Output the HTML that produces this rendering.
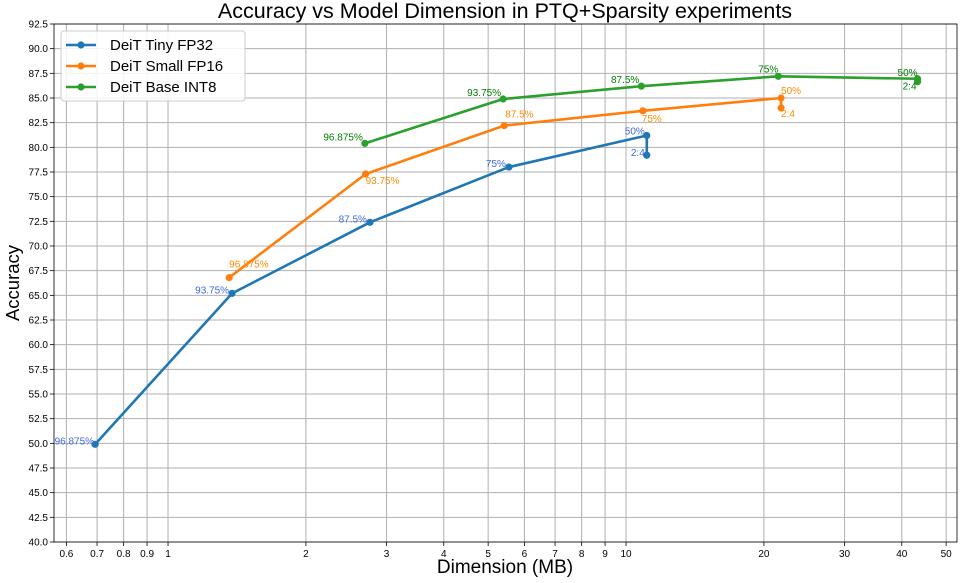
<!DOCTYPE html>
<html><head><meta charset="utf-8"><style>
body{margin:0;background:#fff;}
svg text{font-family:"Liberation Sans","DejaVu Sans",sans-serif;}
</style></head><body>
<svg id="chart" width="962" height="578"></svg>
<script>
const seriesNames=["DeiT Tiny FP32","DeiT Small FP16","DeiT Base INT8"];
const tinyX=[0.693,1.38,2.76,5.55,11.1,11.1];
const tinyY=[49.9,65.2,72.4,78.0,81.2,79.2];
const smallX=[1.36,2.70,5.42,10.88,21.8,21.8];
const smallY=[66.8,77.3,82.2,83.7,85.0,84.0];
const baseX=[2.69,5.39,10.8,21.5,43.3,43.3];
const baseY=[80.4,84.9,86.2,87.2,86.95,86.65];
const pointLabels=["96.875%","93.75%","87.5%","75%","50%","2:4"];
const xTicks=[0.6,0.7,0.8,0.9,1,2,3,4,5,6,7,8,9,10,20,30,40,50];
const yTicks=[];for(let v=40;v<=92.5;v+=2.5)yTicks.push(v);

const NS="http://www.w3.org/2000/svg";
const svg=document.getElementById('chart');
const L=54,R=957,T=24,B=542;
const xmin=Math.log10(0.5637),xmax=Math.log10(52.8);
const X=v=>L+(Math.log10(v)-xmin)/(xmax-xmin)*(R-L);
const Y=v=>B-(v-40)/(92.5-40)*(B-T);
function el(tag,attrs,parent){const e=document.createElementNS(NS,tag);for(const k in attrs)e.setAttribute(k,attrs[k]);(parent||svg).appendChild(e);return e;}

const grid=el('g',{});


xTicks.forEach(t=>{
  const x=X(t);
  el('line',{x1:x,x2:x,y1:T,y2:B,stroke:'#b0b0b0','stroke-width':1},grid);
  el('line',{x1:x,x2:x,y1:B,y2:B+4,stroke:'#000','stroke-width':0.8},grid);
  const tx=el('text',{x:x,y:B+15,'font-size':10,'text-anchor':'middle',fill:'#000'},grid);
  tx.textContent=String(t);
  
  
});
yTicks.forEach(t=>{
  const y=Y(t);
  el('line',{x1:L,x2:R,y1:y,y2:y,stroke:'#b0b0b0','stroke-width':1},grid);
  el('line',{x1:L-4,x2:L,y1:y,y2:y,stroke:'#000','stroke-width':0.8},grid);
  const tx=el('text',{x:L-6,y:y+3.5,'font-size':10,'text-anchor':'end',fill:'#000'},grid);
  tx.textContent=t.toFixed(1);
  
  
});
const frame=el('rect',{x:L,y:T,width:R-L,height:B-T,fill:'none',stroke:'#000','stroke-width':0.8});



const colors=['#1f77b4','#ff7f0e','#2ca02c'];
const labColors=['#4169e1','#ff8c00','#008000'];
const data=[[tinyX,tinyY],[smallX,smallY],[baseX,baseY]];
const offs=[
 [[-1,0,'end'],[-3,0,'end'],[-3,0,'end'],[-3,0,'end'],[-2,-1,'end'],[-2,1,'end']],
 [[0,-10,'start'],[0,10,'start'],[1,-8,'start'],[-1,11,'start'],[0,-4,'start'],[0,9,'start']],
 [[-2,-3,'end'],[-2,-3,'end'],[-2,-3,'end'],[0,-4,'end'],[0,-3,'end'],[-1,8,'end']]
];
data.forEach((s,i)=>{
  const g=el('g',{});
  
  
  const pts=s[0].map((v,j)=>X(v)+','+Y(s[1][j])).join(' ');
  el('polyline',{points:pts,fill:'none',stroke:colors[i],'stroke-width':2.6,'stroke-linejoin':'round'},g);
  s[0].forEach((v,j)=>{
    const c=el('circle',{cx:X(v),cy:Y(s[1][j]),r:3.6,fill:colors[i]},g);
    
    
    const o=offs[i][j];
    const t=el('text',{x:X(v)+o[0],y:Y(s[1][j])+o[1],'font-size':10,fill:labColors[i],'text-anchor':o[2]},g);
    t.textContent=pointLabels[j];
    
    
  });
});

const title=el('text',{x:505,y:18,'font-size':21.5,'text-anchor':'middle',fill:'#000'});
title.textContent='Accuracy vs Model Dimension in PTQ+Sparsity experiments';


const xt=el('text',{x:505,y:573,'font-size':19,'text-anchor':'middle',fill:'#000'});
xt.textContent='Dimension (MB)';


const yt=el('text',{x:19,y:283,'font-size':18.5,'text-anchor':'middle',fill:'#000',transform:'rotate(-90 19 283)'});
yt.textContent='Accuracy';



const lg=el('g',{});


el('rect',{x:61,y:31,width:184,height:70,rx:3,fill:'#fff','fill-opacity':0.85,stroke:'#ccc'},lg);
seriesNames.forEach((n,i)=>{
  const y=45+i*21;
  const e=el('g',{},lg);
  
  
  el('line',{x1:66,x2:96,y1:y,y2:y,stroke:colors[i],'stroke-width':2.6},e);
  el('circle',{cx:81,cy:y,r:3.6,fill:colors[i]},e);
  const t=el('text',{x:110,y:y+5,'font-size':15,fill:'#000'},e);
  t.textContent=n;
});
</script>
</body></html>
